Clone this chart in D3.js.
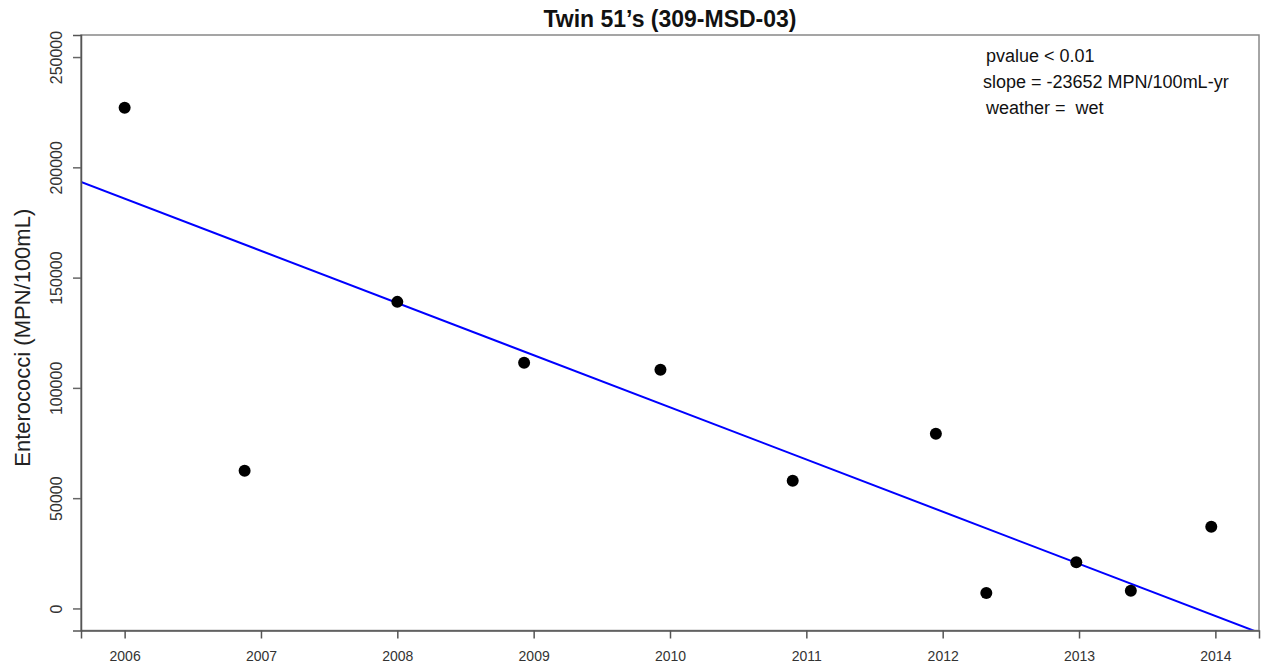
<!DOCTYPE html>
<html>
<head>
<meta charset="utf-8">
<script src="https://cdn.jsdelivr.net/npm/d3@7"></script>
<style>
  html, body { margin: 0; padding: 0; background: #fff; }
  svg { display: block; font-family: "Liberation Sans", Arial, sans-serif; }
</style>
</head>
<body>
<svg id="chart" width="1262" height="669"></svg>
<script>
// ---- data ----
const years = [2006.0, 2006.88, 2008.0, 2008.93, 2009.93, 2010.9, 2011.95, 2012.32, 2012.98, 2013.38, 2013.97];
const enterococci = [227000, 62400, 139000, 111400, 108200, 57900, 79200, 7000, 20900, 8000, 37000];
const xTicks = [2006, 2007, 2008, 2009, 2010, 2011, 2012, 2013, 2014];
const yTicks = [0, 50000, 100000, 150000, 200000, 250000];
const trendSlope = [-23652];          // MPN/100mL per year
const trendAt2006 = [185800];         // fitted value at 2006
const annotations = ["pvalue < 0.01", "slope = -23652 MPN/100mL-yr", "weather =  wet"];
const titleText = "Twin 51\u2019s (309-MSD-03)";
const yLabel = "Enterococci (MPN/100mL)";

// ---- layout ----
const svg = d3.select("#chart");
const L = 81, R = 1259, T = 35, B = 630.5;

const x = d3.scaleLinear().domain([2005.68, 2014.32]).range([L, R]);
const y = d3.scaleLinear().domain([-10000, 260000]).range([B, T]);

svg.append("defs").append("clipPath").attr("id", "clip")
  .append("rect").attr("x", L).attr("y", T).attr("width", R - L).attr("height", B - T);

// trend line
const lineGen = d3.line().x(d => x(d[0])).y(d => y(d[1]));
const xd = x.domain();
const trend = xd.map(v => [v, trendAt2006[0] + trendSlope[0] * (v - 2006)]);
svg.append("path")
  .attr("clip-path", "url(#clip)")
  .attr("d", lineGen(trend))
  .attr("fill", "none")
  .attr("stroke", "#0000ff")
  .attr("stroke-width", 2);

// points
svg.append("g").selectAll("circle")
  .data(years.map((v, i) => [v, enterococci[i]]))
  .join("circle")
  .attr("cx", d => x(d[0]))
  .attr("cy", d => y(d[1]))
  .attr("r", 6)
  .attr("fill", "#000");

// box
svg.append("rect")
  .attr("x", L).attr("y", T).attr("width", R - L).attr("height", B - T)
  .attr("fill", "none").attr("stroke", "#888").attr("stroke-width", 1.5);

// x axis
const xAxis = svg.append("g").attr("transform", `translate(0,${B})`)
  .call(d3.axisBottom(x).tickValues(xTicks).tickFormat(d3.format("d")).tickSize(8).tickPadding(13));
xAxis.select(".domain").attr("stroke", "#555").attr("stroke-width", 1.5);
xAxis.selectAll(".tick line").attr("stroke", "#555").attr("stroke-width", 1.5);
xAxis.selectAll(".tick text")
  .attr("font-family", "Liberation Sans, Arial, sans-serif")
  .attr("font-size", 14).attr("fill", "#333");

// y axis
const yAxis = svg.append("g").attr("transform", `translate(${L},0)`)
  .call(d3.axisLeft(y).tickValues(yTicks).tickFormat(d3.format("d")).tickSize(8));
yAxis.select(".domain").attr("stroke", "#555").attr("stroke-width", 1.5);
yAxis.selectAll(".tick line").attr("stroke", "#666").attr("stroke-width", 1.5);
yAxis.selectAll(".tick text")
  .attr("font-family", "Liberation Sans, Arial, sans-serif")
  .attr("font-size", 16).attr("fill", "#333")
  .attr("x", null).attr("dy", null)
  .attr("text-anchor", "middle")
  .attr("transform", "translate(-19,0) rotate(-90)");

// title
svg.append("text")
  .attr("x", (L + R) / 2).attr("y", 27)
  .attr("text-anchor", "middle")
  .attr("font-size", 23).attr("font-weight", "bold").attr("fill", "#111")
  .text(titleText);

// y label
svg.append("text")
  .attr("transform", `translate(30,${(T + B) / 2 + 5}) rotate(-90)`)
  .attr("text-anchor", "middle")
  .attr("font-size", 22).attr("fill", "#222")
  .text(yLabel);

// annotations
const annX = [986, 983, 986];
const annY = [62, 88, 114];
svg.append("g").selectAll("text")
  .data(annotations)
  .join("text")
  .attr("x", (d, i) => annX[i]).attr("y", (d, i) => annY[i])
  .attr("font-size", 18).attr("fill", "#111")
  .attr("xml:space", "preserve")
  .style("white-space", "pre")
  .text(d => d);
</script>
</body>
</html>
